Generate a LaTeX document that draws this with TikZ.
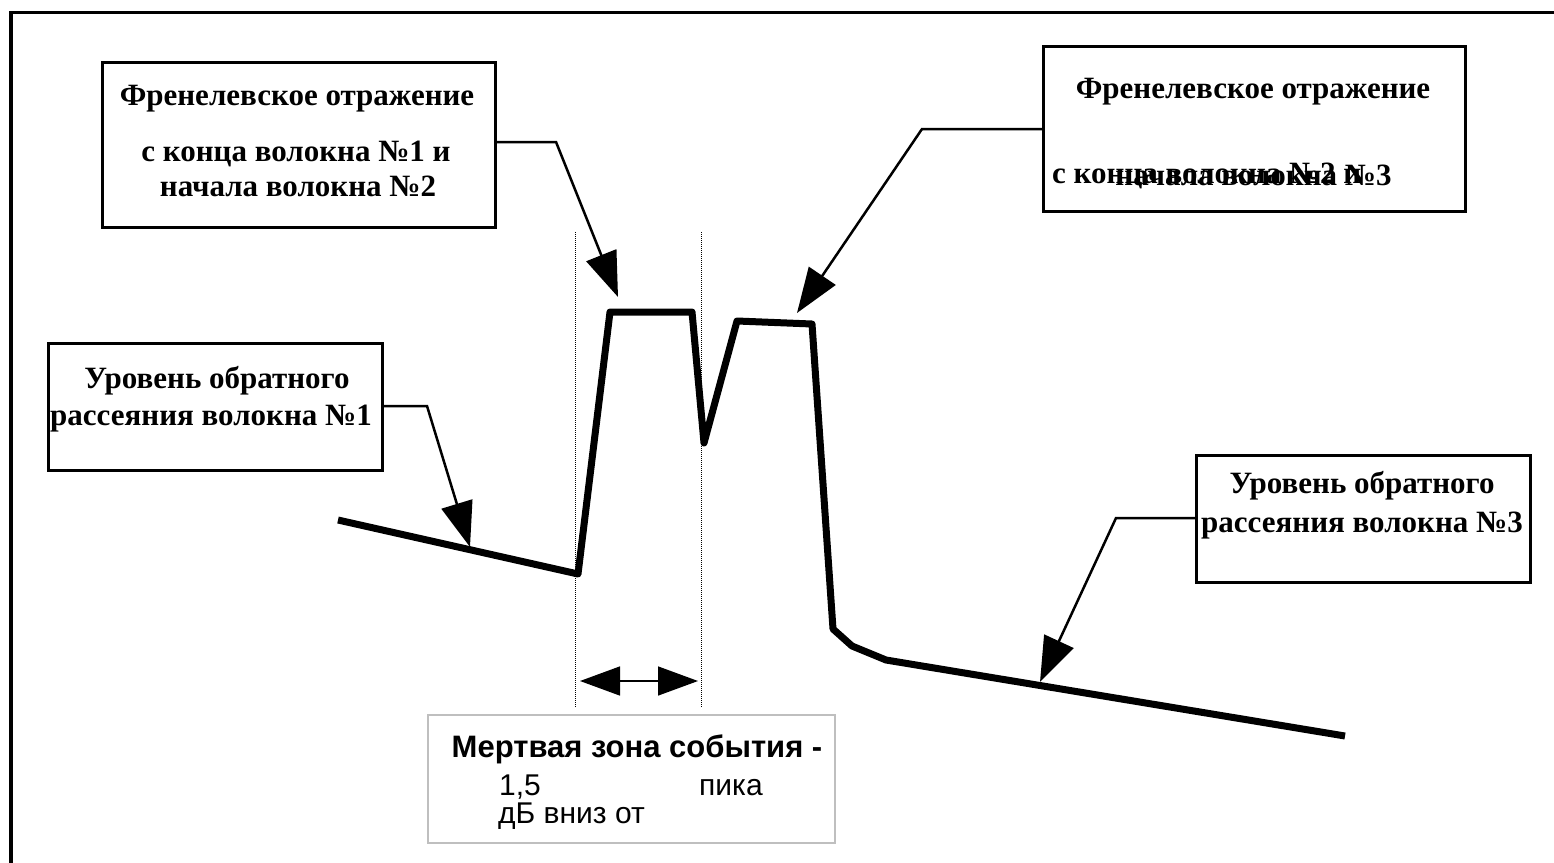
\documentclass[tikz,border=0pt]{standalone}
\usepackage{fontspec}
\setmainfont{Liberation Serif}
\setsansfont{Liberation Sans}
\usetikzlibrary{arrows.meta}

\begin{document}
\begin{tikzpicture}[x=1pt,y=-1pt,
		frame/.style={line width=3.5pt},
		box/.style={draw,line width=3pt,inner sep=0pt,outer sep=0pt},
		lbl/.style={font=\fontsize{31}{36}\selectfont\bfseries,inner sep=0pt,anchor=base},
		note/.style={font=\sffamily\fontsize{30}{36}\selectfont,inner sep=0pt,anchor=base west},
		callout/.style={line width=2.5pt,-{Triangle[length=45pt,width=32pt]}},
		trace/.style={line width=7pt,line join=round},
		zone/.style={line width=1pt,dash pattern=on 1pt off 1pt}]
			\clip (0,0) rectangle (1554,862);
			\fill[white] (0,0) rectangle (1554,862);
			\draw[frame] (11,12.5) rectangle (1600,900);
			% boxes
			\node[box,minimum width=393pt,minimum height=165pt] (fresA) at (298.5,144.5) {};
			\node[box,minimum width=422pt,minimum height=165pt] (fresB) at (1254,128.5) {};
			\node[box,minimum width=334pt,minimum height=127pt] (backA) at (215,406.5) {};
			\node[box,minimum width=334pt,minimum height=127pt] (backB) at (1363,518.5) {};
			\node[box,draw=black!25,line width=1.5pt,minimum width=407pt,minimum height=128pt] (dead) at (631.5,779) {};
			% texts
			\node[lbl] (fresAone) at (297,105) {Френелевское отражение};
			\node[lbl] (fresAtwo) at (296,161) {с конца волокна №1 и};
			\node[lbl] (fresAthree) at (298,196) {начала волокна №2};
			\node[lbl] (fresBone) at (1253,98) {Френелевское отражение};
			\node[lbl,anchor=base west] (fresBtwo) at (1052,183) {с конца волокна №2 и};
			\node[lbl] (fresBthree) at (1253.5,185) {начала волокна №3};
			\node[lbl] (backAone) at (217,388) {Уровень обратного};
			\node[lbl] (backAtwo) at (211,425) {рассеяния волокна №1};
			\node[lbl] (backBone) at (1362,493) {Уровень обратного};
			\node[lbl] (backBtwo) at (1362,532) {рассеяния волокна №3};
			\node[note,font=\sffamily\bfseries\fontsize{31}{36}\selectfont,anchor=base] (deadone) at (637,757) {Мертвая зона события -};
			\node[note] (deadtwo) at (499,795) {1,5};
			\node[note] (deadpeak) at (699,795) {пика};
			\node[note] (deadthree) at (498,823) {дБ вниз от};
			% trace
			\draw[trace] (338,520) -- (578,574) -- (610,312) -- (692,312) -- (704,443) -- (737,321)
				-- (812,324) -- (833,629) -- (852,646) -- (886,660) -- (1345,736);
			% dead zone
			\draw[zone] (575,232) -- (575,708);
			\draw[zone] (701,232) -- (701,708);
			\coordinate (zoneL) at (580,681);
			\coordinate (zoneR) at (698,681);
			\draw[line width=1.5pt,{Triangle[length=40pt,width=29pt]}-{Triangle[length=40pt,width=29pt]}] (zoneL) -- (zoneR);
			% callouts
			\coordinate (bendA) at (556,142);
			\coordinate (tipA) at (618,297);
			\draw[callout] (fresA.east |- bendA) -- (bendA) -- (tipA);
			\coordinate (bendB) at (922,129);
			\coordinate (tipB) at (797,313);
			\draw[callout] (fresB.west |- bendB) -- (bendB) -- (tipB);
			\coordinate (bendC) at (427,406);
			\coordinate (tipC) at (470,547);
			\draw[callout] (backA.east |- bendC) -- (bendC) -- (tipC);
			\coordinate (bendD) at (1116,518);
			\coordinate (tipD) at (1040,682);
			\draw[callout] (backB.west |- bendD) -- (bendD) -- (tipD);
		\end{tikzpicture}
\end{document}
